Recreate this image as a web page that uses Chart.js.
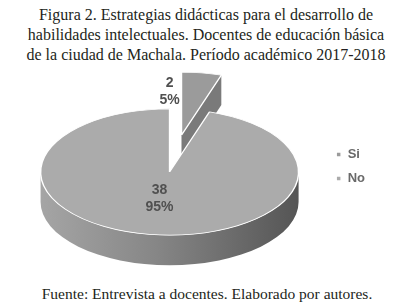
<!DOCTYPE html>
<html>
<head>
<meta charset="utf-8">
<script src="https://cdn.jsdelivr.net/npm/chart.js@4.4.1/dist/chart.umd.min.js"></script>
<style>
  html, body { margin: 0; padding: 0; background: #fff; }
  #page { position: relative; width: 407px; height: 304px; overflow: hidden; }
  #title {
    position: absolute; left: 0; top: 5px; width: 407px; box-sizing: border-box; padding-left: 5px;
    font-family: "Liberation Serif", serif; font-size: 16px; line-height: 20px;
    color: #231f20; text-align: center; white-space: nowrap;
  }
  #wrap { position: absolute; left: 0; top: 65px; width: 407px; height: 215px; }
  #footer {
    position: absolute; left: 0; top: 284px; width: 407px; box-sizing: border-box; padding-left: 7px;
    font-family: "Liberation Serif", serif; font-size: 15.5px; line-height: 20px;
    color: #231f20; text-align: center; white-space: nowrap;
  }
</style>
</head>
<body>
<div id="page">
  <div id="title"></div>
  <div id="wrap"><canvas id="pieChart"></canvas></div>
  <div id="footer"></div>
</div>
<script>
var categories = ['Si', 'No'];
var counts = [2, 38];
var percents = ['5%', '95%'];
var titleLines = [
  'Figura 2. Estrategias didácticas para el desarrollo de',
  'habilidades intelectuales. Docentes de educación básica',
  'de la ciudad de Machala. Período académico 2017-2018'
];
var footerText = 'Fuente: Entrevista a docentes. Elaborado por autores.';

document.getElementById('title').innerHTML = titleLines.join('<br>');
document.getElementById('footer').textContent = footerText;

// fake 3D: flatten the pie, explode slices, paint a side wall under it
var tilt = 0.49, depth = 30;
var explodeBy = [76, 0];
var labelShift = [[-22, -12.5], [0, -4.5]];

function sliceGeom(arc, i) {
  var p = arc.getProps(['x', 'y', 'startAngle', 'endAngle', 'outerRadius'], true);
  var mid = (p.startAngle + p.endAngle) / 2;
  var off = explodeBy[i] || 0;
  return {
    p: p, mid: mid, off: off,
    dx: off * Math.cos(mid),
    dy: off * Math.sin(mid) * tilt
  };
}

var pie3d = {
  id: 'pie3d',
  beforeDatasetDraw: function(chart) {
    var ctx = chart.ctx;
    var arcs = chart.getDatasetMeta(0).data;
    // walls first
    arcs.forEach(function(arc, i) {
      var g = sliceGeom(arc, i), p = g.p;
      var ox = p.x + g.dx, oy = p.y + g.dy;
      var r = p.outerRadius, ry = r * tilt;
      ctx.save();
      var a0 = Math.max(p.startAngle, 0), a1 = Math.min(p.endAngle, Math.PI);
      if (a1 > a0) {
        var grd = ctx.createLinearGradient(ox - r, 0, ox + r, 0);
        grd.addColorStop(0, '#a5a5a5');
        grd.addColorStop(0.45, '#868686');
        grd.addColorStop(1, '#555555');
        ctx.beginPath();
        ctx.ellipse(ox, oy, r, ry, 0, a0, a1, false);
        ctx.ellipse(ox, oy + depth, r, ry, 0, a1, a0, true);
        ctx.closePath();
        ctx.fillStyle = grd;
        ctx.fill();
      }
      if (g.off > 0 && Math.cos(p.endAngle) > 0) {
        var px = ox + r * Math.cos(p.endAngle), py = oy + ry * Math.sin(p.endAngle);
        ctx.beginPath();
        ctx.moveTo(ox, oy);
        ctx.lineTo(px, py);
        ctx.lineTo(px, py + depth);
        ctx.lineTo(ox, oy + depth);
        ctx.closePath();
        ctx.fillStyle = '#7a7a7a';
        ctx.fill();
      }
      ctx.restore();
    });
    // then the flattened tops, drawn by the arc elements themselves
    arcs.forEach(function(arc, i) {
      var g = sliceGeom(arc, i), p = g.p;
      ctx.save();
      ctx.translate(p.x + g.dx, p.y + g.dy);
      ctx.scale(1, tilt);
      ctx.translate(-p.x, -p.y);
      arc.draw(ctx);
      ctx.restore();
    });
    // value labels
    ctx.save();
    ctx.font = 'bold 14px "Liberation Sans", Arial, sans-serif';
    ctx.fillStyle = '#505050';
    ctx.textAlign = 'center';
    ctx.textBaseline = 'middle';
    arcs.forEach(function(arc, i) {
      var g = sliceGeom(arc, i), p = g.p;
      var rr = g.off + p.outerRadius * 0.5;
      var x = p.x + rr * Math.cos(g.mid) + labelShift[i][0];
      var y = p.y + rr * Math.sin(g.mid) * tilt + labelShift[i][1];
      ctx.fillText(String(counts[i]), x, y - 8.5);
      ctx.fillText(percents[i], x, y + 8.5);
    });
    ctx.restore();
    return false;
  }
};

var chart = new Chart(document.getElementById('pieChart'), {
  type: 'pie',
  data: {
    labels: categories,
    datasets: [{
      data: counts,
      backgroundColor: ['#9b9b9b', '#ababab'],
      borderColor: '#ffffff',
      borderWidth: 1.5
    }]
  },
  options: {
    responsive: true,
    maintainAspectRatio: false,
    animation: false,
    radius: 129,
    layout: { padding: { left: 14, right: 32, top: 72, bottom: 73 } },
    plugins: {
      legend: {
        position: 'right',
        align: 'start',
        labels: {
          boxWidth: 5,
          boxHeight: 5,
          padding: 11,
          color: '#6a6a6a',
          font: { family: '"Liberation Sans", Arial, sans-serif', size: 13, weight: 'bold' }
        }
      },
      tooltip: { enabled: false }
    }
  },
  plugins: [pie3d]
});
</script>
</body>
</html>
